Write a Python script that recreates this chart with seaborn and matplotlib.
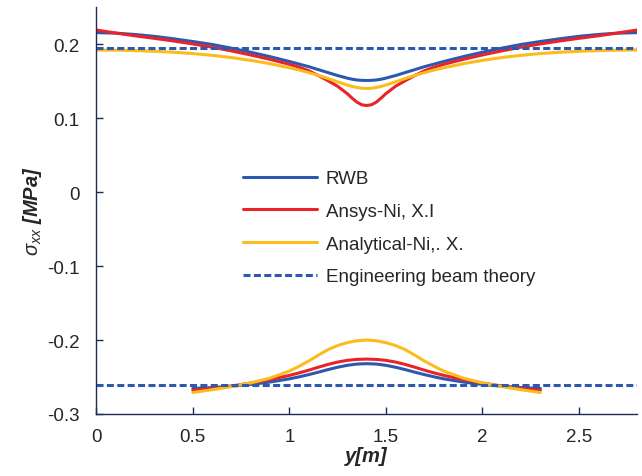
import numpy as np
import pandas as pd
import matplotlib
matplotlib.use("Agg")
import matplotlib.pyplot as plt
import seaborn as sns
from matplotlib.lines import Line2D

sns.set_style("white")
plt.rcParams['font.family'] = ['Liberation Sans', 'DejaVu Sans']
plt.rcParams['mathtext.fontset'] = 'custom'
plt.rcParams['mathtext.it'] = 'Liberation Sans:italic'
plt.rcParams['mathtext.rm'] = 'Liberation Sans'

# ---- data ----
y_top = [0.0, 0.1, 0.2, 0.3, 0.4, 0.5, 0.6, 0.7, 0.8, 0.9, 1.0, 1.05, 1.1, 1.15, 1.2, 1.25,
         1.3, 1.325, 1.35, 1.375, 1.4, 1.425, 1.45, 1.475, 1.5, 1.55, 1.6, 1.65, 1.7, 1.75,
         1.8, 1.9, 2.0, 2.1, 2.2, 2.3, 2.4, 2.5, 2.6, 2.7, 2.8]
rwb_top = [0.2155, 0.2148, 0.2130, 0.2105, 0.2072, 0.2035, 0.1995, 0.1945, 0.1890, 0.1830,
           0.1765, 0.1730, 0.1695, 0.1655, 0.1615, 0.1575, 0.1540, 0.1525, 0.1515, 0.1510,
           0.1508, 0.1510, 0.1515, 0.1525, 0.1540, 0.1575, 0.1615, 0.1655, 0.1695, 0.1730,
           0.1765, 0.1830, 0.1890, 0.1945, 0.1995, 0.2035, 0.2072, 0.2105, 0.2130, 0.2148, 0.2155]
ansys_top = [0.2190, 0.2150, 0.2112, 0.2078, 0.2042, 0.2002, 0.1958, 0.1908, 0.1853, 0.1793,
             0.1727, 0.1688, 0.1640, 0.1575, 0.1505, 0.1430, 0.1330, 0.1270, 0.1215, 0.1180,
             0.1170, 0.1180, 0.1215, 0.1270, 0.1330, 0.1430, 0.1505, 0.1575, 0.1640, 0.1688,
             0.1727, 0.1793, 0.1853, 0.1908, 0.1958, 0.2002, 0.2042, 0.2078, 0.2112, 0.2150, 0.2190]
anal_top = [0.1920, 0.1918, 0.1912, 0.1903, 0.1890, 0.1872, 0.1848, 0.1818, 0.1780, 0.1735,
            0.1680, 0.1650, 0.1615, 0.1577, 0.1535, 0.1490, 0.1447, 0.1428, 0.1413, 0.1403,
            0.1400, 0.1403, 0.1413, 0.1428, 0.1447, 0.1490, 0.1535, 0.1577, 0.1615, 0.1650,
            0.1680, 0.1735, 0.1780, 0.1818, 0.1848, 0.1872, 0.1890, 0.1903, 0.1912, 0.1918, 0.1920]

y_bot = [0.5, 0.6, 0.7, 0.8, 0.9, 1.0, 1.05, 1.1, 1.15, 1.2, 1.25, 1.3, 1.35, 1.4,
         1.45, 1.5, 1.55, 1.6, 1.65, 1.7, 1.75, 1.8, 1.9, 2.0, 2.1, 2.2, 2.3]
rwb_bot = [-0.2655, -0.2643, -0.2625, -0.2600, -0.2568, -0.2525, -0.2498, -0.2468, -0.2435,
           -0.2400, -0.2368, -0.2342, -0.2325, -0.2320, -0.2325, -0.2342, -0.2368, -0.2400,
           -0.2435, -0.2468, -0.2498, -0.2525, -0.2568, -0.2600, -0.2625, -0.2643, -0.2655]
ansys_bot = [-0.2680, -0.2655, -0.2622, -0.2582, -0.2535, -0.2478, -0.2445, -0.2408, -0.2368,
             -0.2330, -0.2298, -0.2275, -0.2262, -0.2258, -0.2262, -0.2275, -0.2298, -0.2330,
             -0.2368, -0.2408, -0.2445, -0.2478, -0.2535, -0.2582, -0.2622, -0.2655, -0.2680]
anal_bot = [-0.2710, -0.2672, -0.2630, -0.2580, -0.2515, -0.2420, -0.2355, -0.2285, -0.2205,
            -0.2130, -0.2075, -0.2035, -0.2010, -0.2000, -0.2010, -0.2035, -0.2075, -0.2130,
            -0.2205, -0.2285, -0.2355, -0.2420, -0.2515, -0.2580, -0.2630, -0.2672, -0.2710]

beam_y = [0.0, 2.8]
beam_top = 0.195
beam_bot = -0.261

labels = ["RWB", "Ansys-Ni, X.I", "Analytical-Ni,. X.", "Engineering beam theory"]
colors = ["#2D58B0", "#E8232A", "#FBBC1E", "#2D58B0"]

fig = plt.figure(figsize=(6.42, 4.77), dpi=100)
ax = fig.add_axes([0.150, 0.130, 0.842, 0.853])

lw = 2.2
dash = (0, (2.3, 1.1))
for xs, ys, c in [(y_top, rwb_top, colors[0]), (y_bot, rwb_bot, colors[0]),
                  (y_top, ansys_top, colors[1]), (y_bot, ansys_bot, colors[1]),
                  (y_top, anal_top, colors[2]), (y_bot, anal_bot, colors[2])]:
    sns.lineplot(x=xs, y=ys, ax=ax, color=c, lw=lw, sort=False)

for val in (beam_top, beam_bot):
    sns.lineplot(x=beam_y, y=[val, val], ax=ax, color=colors[3], lw=lw,
                 linestyle=dash, sort=False)

ax.set_xlim(0, 2.8)
ax.set_ylim(-0.3, 0.25)
ax.set_xticks([0, 0.5, 1, 1.5, 2, 2.5])
ax.set_xticklabels(["0", "0.5", "1", "1.5", "2", "2.5"])
ax.set_yticks([-0.3, -0.2, -0.1, 0, 0.1, 0.2])
ax.set_yticklabels(["-0.3", "-0.2", "-0.1", "0", "0.1", "0.2"])

spine_c = "#1F2A55"
for s in ["top", "right"]:
    ax.spines[s].set_visible(False)
for s in ["left", "bottom"]:
    ax.spines[s].set_color(spine_c)
    ax.spines[s].set_linewidth(1.0)
ax.tick_params(direction="in", length=5, width=1, color=spine_c, labelsize=13.5,
               left=True, bottom=True)
ax.tick_params(axis="y", pad=12)
ax.tick_params(axis="x", pad=10)

ax.set_xlabel("y[m]", fontsize=14.5, fontweight="bold", fontstyle="italic", labelpad=1)
ax.set_ylabel(r"$\sigma_{xx}$ [MPa]", fontsize=14.5, fontweight="bold", fontstyle="italic",
              labelpad=2.5)

handles = [Line2D([0], [0], color=colors[0], lw=lw),
           Line2D([0], [0], color=colors[1], lw=lw),
           Line2D([0], [0], color=colors[2], lw=lw),
           Line2D([0], [0], color=colors[3], lw=lw, linestyle=dash)]
ax.legend(handles, labels, loc="upper left", bbox_to_anchor=(0.241, 0.641),
          frameon=False, fontsize=13.5, handlelength=3.9, handletextpad=0.48,
          labelspacing=0.83)

fig.savefig("out.png", dpi=100)
